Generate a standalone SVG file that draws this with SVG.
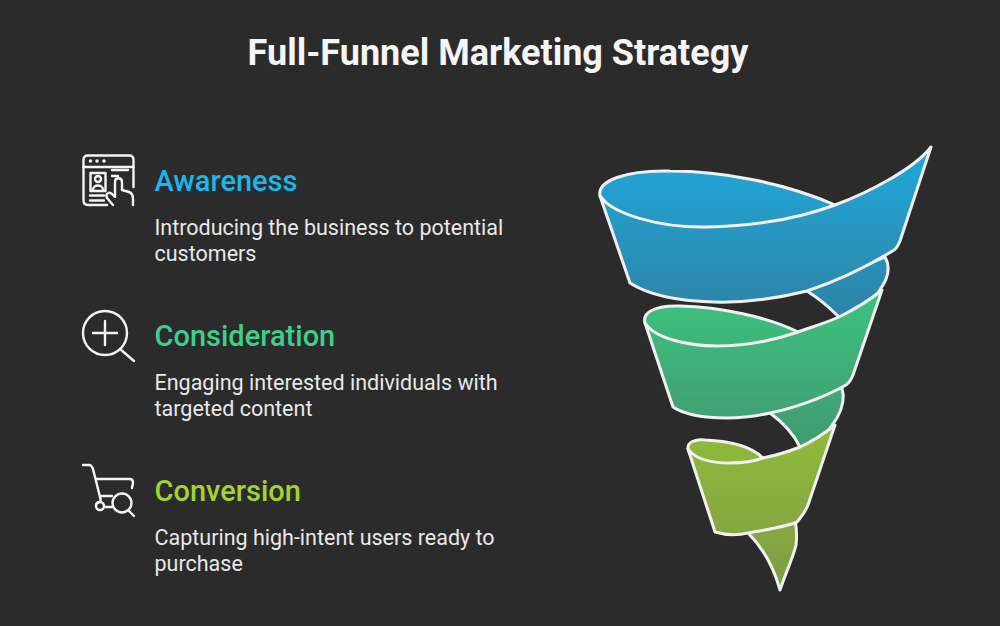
<svg xmlns="http://www.w3.org/2000/svg" width="1000" height="626" viewBox="0 0 1000 626">
<style>
text{font-family:Roboto,"Liberation Sans",sans-serif}
.title{font-size:36px;font-weight:700;fill:#f5f5f5}
.head{font-size:29px;font-weight:500}
.body{font-size:21.500px;fill:#e8e8e8}
.f{stroke:#f0f0f0;stroke-width:3;stroke-linejoin:round;stroke-linecap:round}
.i{fill:none;stroke:#f4f4f4;stroke-width:2.400;stroke-linecap:round;stroke-linejoin:round}
</style>
<defs>
<linearGradient id="b" gradientUnits="userSpaceOnUse" x1="0" y1="150" x2="0" y2="320"><stop offset="0" stop-color="#1fa8da"/><stop offset="1" stop-color="#2f82a5"/></linearGradient>
<linearGradient id="g" gradientUnits="userSpaceOnUse" x1="0" y1="295" x2="0" y2="450"><stop offset="0" stop-color="#3cc27e"/><stop offset="1" stop-color="#439872"/></linearGradient>
<linearGradient id="l" gradientUnits="userSpaceOnUse" x1="0" y1="430" x2="0" y2="590"><stop offset="0" stop-color="#8fbb38"/><stop offset="1" stop-color="#7f9b48"/></linearGradient>
</defs>
<rect width="1000" height="626" fill="#2b2b2b"/>
<text class="title" x="498" y="65" text-anchor="middle">Full-Funnel Marketing Strategy</text>

<g id="funnel">
<path class="f" fill="url(#l)" d="M748 533C763 548 774 568 780 590C786 572 793 558 796 545C797 537 797 530 795 520L770 525Z"/>
<path class="f" fill="url(#g)" d="M770 413C781 421 793 433 800 447L815 450L837 418C842 409 845 398 842 388L810 395Z"/>
<path class="f" fill="url(#b)" d="M807 291C818 298 830 308 839 317L860 320L883 285C889 275 890 266 885 257L840 275Z"/>
<path class="f" fill="url(#b)" d="M600 196C597 181 625 170 670 171C722 171 785 183 835 205L800 240L640 240Z"/>
<path class="f" fill="url(#b)" d="M600 196C612 214 660 228 707 227C760 226 800 218 835 205C870 192 915 168 931 147L900 241C898 246 897 248 894 250C870 265 840 280 807 291C775 299 745 303 713 302C680 301 650 296 630 283Z"/>
<path class="f" fill="url(#g)" d="M645 323C642 312 656 305 680 306C720 307 768 317 798 332L780 360L670 360Z"/>
<path class="f" fill="url(#g)" d="M645 323C655 339 690 346 717 346C750 346 775 340 798 332C815 326 828 322 839 317C855 309 870 300 882 290L853 375C851 380 849 383 846 385C825 397 795 408 770 413C752 417 740 418 727 418C705 418 685 415 673 407Z"/>
<path class="f" fill="url(#l)" d="M688 449C687 442 695 439 705 440C730 441 752 447 763 458L750 480L700 480Z"/>
<path class="f" fill="url(#l)" d="M688 449C695 459 712 463 730 463C745 463 755 461 763 458C778 455 790 451 800 447C815 440 825 433 835 425L808 505C806 510 803 515 797 522C785 527 765 530 748 533C735 536 725 535 715 532Z"/>
</g>

<g id="awareness">
<g class="i">
<path d="M107 205H88C85 205 83.500 203 83.500 200V160C83.500 157 85 155.500 88 155.500H129C132 155.500 133.500 157 133.500 160V187"/>
<path d="M83.500 167H133.500"/>
<rect x="90.500" y="173" width="15" height="18"/>
<circle cx="98" cy="179" r="3"/>
<path d="M93 190C93 184 103 184 103 190"/>
<path d="M90 195.500H104M90 200.500H104M112 170H128M112 176H118"/>
<path d="M113 205L107 198C105 194 109 191 112 194L115 197V182C115 177 122 177 122 182V190L129 192C132 193 133 196 133 199V205"/>
</g>
<g fill="#f4f4f4"><circle cx="90.500" cy="161" r="1.800"/><circle cx="97" cy="161" r="1.800"/><circle cx="104" cy="161" r="1.800"/></g>
<text class="head" x="154.500" y="191" fill="#1cb6ee">Awareness</text>
<text class="body" x="154.500" y="235">Introducing the business to potential</text>
<text class="body" x="154.500" y="261">customers</text>
</g>

<g id="consideration">
<g class="i">
<circle cx="105" cy="333" r="22"/>
<path d="M105 321V345M93 333H117M120 349L134 361"/>
</g>
<text class="head" x="154.500" y="346" fill="#3ed08a">Consideration</text>
<text class="body" x="154.500" y="390">Engaging interested individuals with</text>
<text class="body" x="154.500" y="416">targeted content</text>
</g>

<g id="conversion">
<g class="i">
<path d="M83 465H89C91 465 92 466 93 469L100 497C101 500 101 501 100 502"/>
<path d="M96 479H130C132 479 133 481 133 483L132 488"/>
<path d="M100 496H112M105 507H112"/>
<path d="M100 502C97 502 96 504 96 506"/>
<circle cx="100" cy="506" r="4"/>
<circle cx="122" cy="503" r="9.500"/>
<path d="M128 510L134 516"/>
</g>
<text class="head" x="154.500" y="501" fill="#a3d234">Conversion</text>
<text class="body" x="154.500" y="545">Capturing high-intent users ready to</text>
<text class="body" x="154.500" y="571">purchase</text>
</g>
</svg>
